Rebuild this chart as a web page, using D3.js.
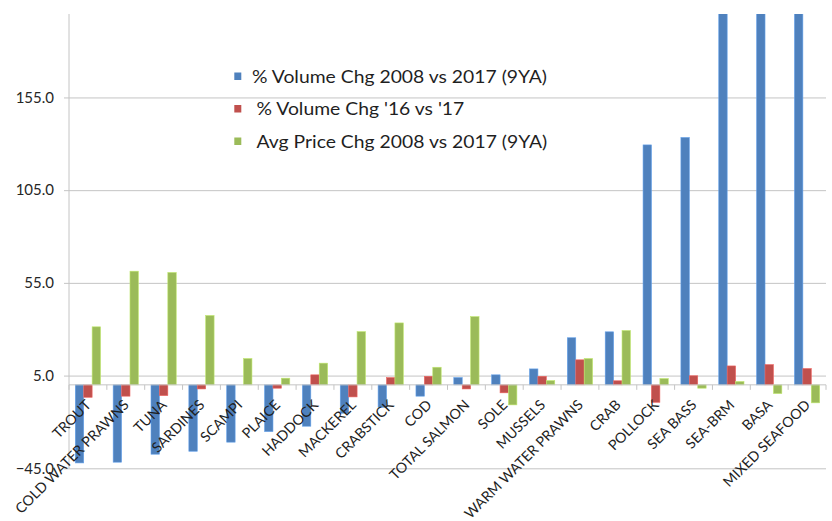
<!DOCTYPE html>
<html>
<head>
<meta charset="utf-8">
<script src="https://cdn.jsdelivr.net/npm/d3@7"></script>
<style>
  html, body { margin: 0; padding: 0; background: #fff; }
  svg { display: block; }
  text { font-family: Lato, "Open Sans", sans-serif; fill: #1f1f1f; }
</style>
</head>
<body>
<svg id="chart" width="832" height="521"></svg>
<script>
// Seafood categories, left to right
const categories = [
  "TROUT", "COLD WATER PRAWNS", "TUNA", "SARDINES", "SCAMPI", "PLAICE",
  "HADDOCK", "MACKEREL", "CRABSTICK", "COD", "TOTAL SALMON", "SOLE",
  "MUSSELS", "WARM WATER PRAWNS", "CRAB", "POLLOCK", "SEA BASS",
  "SEA-BRM", "BASA", "MIXED SEAFOOD"
];

const seriesNames = [
  "% Volume Chg 2008 vs 2017 (9YA)",
  " % Volume Chg '16 vs '17",
  " Avg Price Chg 2008 vs 2017 (9YA)"
];

// % volume change, 2008 vs 2017
const volChg9YA = [
  -42.1, -41.7, -37.4, -35.8, -30.9, -25.2, -22.3, -15.3, -12.1, -6.1,
  3.9, 5.4, 8.6, 25.4, 28.6, 129.4, 133.4, 240.0, 265.0, 230.0
];

// % volume change, 2016 vs 2017
const volChgYoY = [
  -6.7, -6.1, -5.8, -2.2, 0.0, -1.8, 5.4, -6.5, 3.9, 4.6,
  -2.2, -4.3, 4.6, 13.5, 2.2, -9.4, 4.9, 10.2, 10.9, 8.8
];

// Average price change, 2008 vs 2017
const priceChg9YA = [
  31.3, 61.3, 60.6, 37.4, 14.2, 3.6, 11.7, 28.7, 33.4, 9.5,
  36.8, -10.8, 2.3, 14.2, 29.3, 3.4, -1.8, 1.8, -4.7, -9.7
];

const yTicks = [-45, 5, 55, 105, 155];
const colors = ["#4F81BD", "#C0504D", "#9BBB59"];

const seriesValues = [volChg9YA, volChgYoY, priceChg9YA];

const svg = d3.select("#chart");
const plot = { left: 69, right: 826, top: 14, bottom: 468.3 };

const x = d3.scaleBand()
  .domain(categories)
  .range([plot.left, plot.right])
  .paddingInner(0)
  .paddingOuter(0);

const xs = d3.scaleBand()
  .domain(d3.range(seriesValues.length))
  .range([0, x.bandwidth()])
  .paddingInner(0)
  .paddingOuter(0.75);

const y = d3.scaleLinear()
  .domain([-45, 200])
  .range([plot.bottom, plot.top]);

// Horizontal gridlines with short outward ticks
const yAxis = d3.axisLeft(y)
  .tickValues(yTicks)
  .tickFormat(d3.format(".1f"))
  .tickSize(-(plot.right - plot.left))
  .tickSizeOuter(0)
  .tickPadding(15);

const gy = svg.append("g")
  .attr("transform", `translate(${plot.left},0)`)
  .call(yAxis);
gy.select(".domain").remove();
gy.selectAll(".tick line")
  .attr("x1", -5)
  .attr("stroke", "#c4c4c4")
  .attr("stroke-width", 1);
gy.selectAll(".tick text")
  .style("font-size", "15px")
  .style("fill", "#262626");

// Vertical value axis line
svg.append("line")
  .attr("x1", plot.left).attr("x2", plot.left)
  .attr("y1", plot.top).attr("y2", plot.bottom)
  .attr("stroke", "#c4c4c4");

// Bars, clipped to the plot area
svg.append("clipPath").attr("id", "plotClip")
  .append("rect")
  .attr("x", plot.left).attr("y", plot.top)
  .attr("width", plot.right - plot.left)
  .attr("height", plot.bottom - plot.top);

const barsG = svg.append("g").attr("clip-path", "url(#plotClip)");
seriesValues.forEach((vals, si) => {
  barsG.append("g")
    .selectAll("rect")
    .data(vals.map((v, i) => ({ cat: categories[i], v })))
    .join("rect")
    .attr("x", d => x(d.cat) + xs(si))
    .attr("width", xs.bandwidth())
    .attr("y", d => y(Math.max(0, d.v)))
    .attr("height", d => Math.abs(y(d.v) - y(0)))
    .attr("fill", colors[si])
    .attr("stroke", d3.color(colors[si]).brighter(0.6))
    .attr("stroke-width", 0.6);
});

// Category axis at zero with ticks between categories
const y0 = y(0);
svg.append("line")
  .attr("x1", plot.left).attr("x2", plot.right)
  .attr("y1", y0).attr("y2", y0)
  .attr("stroke", "#c4c4c4");

const boundaries = categories.map(c => x(c)).concat([plot.right]);
svg.append("g")
  .selectAll("line")
  .data(boundaries)
  .join("line")
  .attr("x1", d => d).attr("x2", d => d)
  .attr("y1", y0).attr("y2", y0 + 5)
  .attr("stroke", "#c4c4c4");

svg.append("g")
  .selectAll("text")
  .data(categories)
  .join("text")
  .attr("transform", d => `translate(${x(d) + x.bandwidth() / 2 + 4},${y0 + 21}) rotate(-45)`)
  .attr("text-anchor", "end")
  .style("font-size", "14.2px")
  .text(d => d);

// Legend (text widened slightly to the legend's box width)
const legendRows = [76.7, 109.2, 141.7];
const legendTextX = [252, 256.5, 256.5];
const legendWidthFirst = 295;
const legend = svg.append("g");
const legendTexts = [];
seriesNames.forEach((name, i) => {
  legend.append("rect")
    .attr("x", 234.3).attr("y", legendRows[i] - 4.2)
    .attr("width", 7).attr("height", 7.5)
    .attr("fill", colors[i]);
  legendTexts.push(legend.append("text")
    .attr("x", legendTextX[i])
    .attr("y", legendRows[i])
    .attr("dy", "0.35em")
    .style("font-size", "17px")
    .text(name.trim()));
});
const k = legendWidthFirst / legendTexts[0].node().getComputedTextLength();
legendTexts.forEach(t => {
  const w = t.node().getComputedTextLength();
  t.attr("textLength", w * k).attr("lengthAdjust", "spacingAndGlyphs");
});
</script>
</body>
</html>
